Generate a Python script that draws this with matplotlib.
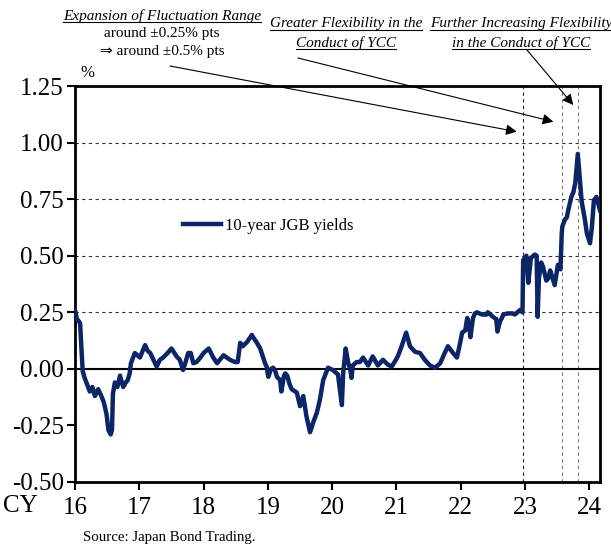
import matplotlib
matplotlib.use("Agg")
import matplotlib.pyplot as plt
from matplotlib.lines import Line2D

plt.rcParams["font.family"] = ["Liberation Serif", "DejaVu Serif"]
plt.rcParams["axes.unicode_minus"] = False

# 10-year JGB yield (%), x in calendar years (16 = Jan 2016)
years = [
    16.00, 16.03, 16.06, 16.08, 16.10, 16.12, 16.15, 16.19, 16.23, 16.27,
    16.31, 16.36, 16.41, 16.45, 16.49, 16.52, 16.555, 16.575, 16.59, 16.62,
    16.66, 16.70, 16.75, 16.79, 16.82, 16.85, 16.87, 16.93, 17.01, 17.09,
    17.13, 17.17, 17.22, 17.27, 17.32, 17.37, 17.44, 17.50, 17.58, 17.63,
    17.68, 17.72, 17.76, 17.80, 17.84, 17.89, 17.95, 18.00, 18.08, 18.15,
    18.21, 18.31, 18.41, 18.49, 18.53, 18.57, 18.61, 18.68, 18.75, 18.77,
    18.83, 18.88, 18.92, 18.955, 18.98, 19.006, 19.05, 19.08, 19.11, 19.14,
    19.19, 19.21, 19.25, 19.27, 19.30, 19.34, 19.37, 19.45, 19.50, 19.55,
    19.60, 19.655, 19.68, 19.70, 19.76, 19.81, 19.86, 19.935, 20.01, 20.09,
    20.15, 20.17, 20.21, 20.25, 20.28, 20.30, 20.32, 20.38, 20.43, 20.48,
    20.56, 20.63, 20.71, 20.79, 20.86, 20.925, 20.97, 21.02, 21.08, 21.15,
    21.18, 21.21, 21.29, 21.365, 21.44, 21.52, 21.60, 21.68, 21.75, 21.80,
    21.88, 21.94, 21.99, 22.02, 22.07, 22.10, 22.13, 22.15, 22.19, 22.22,
    22.25, 22.33, 22.40, 22.42, 22.50, 22.55, 22.57, 22.61, 22.64, 22.66,
    22.73, 22.81, 22.84, 22.92, 22.96, 22.97, 23.02, 23.05, 23.09, 23.15,
    23.18, 23.195, 23.215, 23.25, 23.28, 23.33, 23.36, 23.39, 23.46, 23.51,
    23.55, 23.57, 23.58, 23.62, 23.65, 23.67, 23.72, 23.75, 23.78, 23.82,
    23.84, 23.88, 23.93, 23.96, 24.01, 24.04, 24.07, 24.11, 24.165,
]
yields = [
    0.26, 0.22, 0.21, 0.20, 0.09, -0.01, -0.04, -0.07, -0.10, -0.08,
    -0.12, -0.09, -0.12, -0.15, -0.20, -0.27, -0.29, -0.27, -0.11, -0.06,
    -0.08, -0.03, -0.08, -0.06, -0.05, -0.02, 0.025, 0.07, 0.05, 0.105,
    0.08, 0.07, 0.04, 0.01, 0.04, 0.05, 0.07, 0.09, 0.055, 0.04,
    -0.005, 0.03, 0.07, 0.07, 0.025, 0.03, 0.05, 0.07, 0.09, 0.05,
    0.025, 0.06, 0.04, 0.03, 0.03, 0.115, 0.10, 0.12, 0.15, 0.14,
    0.115, 0.09, 0.055, 0.025, 0.01, -0.035, 0.00, 0.005, -0.005, -0.035,
    -0.05, -0.10, -0.03, -0.02, -0.03, -0.07, -0.09, -0.105, -0.165, -0.12,
    -0.21, -0.28, -0.26, -0.24, -0.195, -0.135, -0.05, 0.005, -0.005, -0.025,
    -0.16, -0.02, 0.09, 0.025, 0.00, -0.04, 0.015, 0.03, 0.03, 0.05,
    0.015, 0.055, 0.015, 0.04, 0.02, 0.01, 0.03, 0.055, 0.10, 0.16,
    0.13, 0.10, 0.075, 0.07, 0.04, 0.015, 0.005, 0.025, 0.07, 0.10,
    0.07, 0.05, 0.115, 0.16, 0.17, 0.225, 0.195, 0.14, 0.225, 0.245,
    0.25, 0.24, 0.24, 0.25, 0.23, 0.22, 0.165, 0.21, 0.225, 0.24,
    0.245, 0.245, 0.24, 0.26, 0.25, 0.48, 0.50, 0.38, 0.49, 0.505,
    0.50, 0.23, 0.40, 0.47, 0.45, 0.39, 0.40, 0.435, 0.37, 0.46,
    0.44, 0.60, 0.63, 0.66, 0.67, 0.70, 0.76, 0.78, 0.82, 0.95,
    0.88, 0.74, 0.66, 0.60, 0.555, 0.63, 0.745, 0.76, 0.70,
]

year_ticks = [16, 17, 18, 19, 20, 21, 22, 23, 24]
year_labels = ["16", "17", "18", "19", "20", "21", "22", "23", "24"]
y_ticks = [-0.50, -0.25, 0.00, 0.25, 0.50, 0.75, 1.00, 1.25]
grid_levels = [0.25, 0.50, 0.75, 1.00]

# policy events: (x, arrow tip y, colour of dashed line)
event_x = [22.97, 23.57, 23.83]
event_tip_x = [22.87, 23.44, 23.75]
event_tip_y = [1.048, 1.092, 1.166]
event_colors = ["#222222", "#777777", "#777777"]

LINE = "#0b2566"
W, H = 611, 549

fig = plt.figure(figsize=(W / 100, H / 100), dpi=100)
ax = fig.add_axes([75 / W, 1 - 482 / H, 525 / W, 396 / H])

for lv in grid_levels:
    ax.axhline(lv, color="#333333", lw=0.8, ls=(0, (3, 3)), zorder=1)
for x, c in zip(event_x, event_colors):
    ax.axvline(x, color=c, lw=0.8, ls=(0, (3, 3)), zorder=1)
ax.axhline(0, color="black", lw=1.5, zorder=2)

ax.plot(years, yields, color=LINE, lw=3.2, solid_joinstyle="round",
        label="10-year JGB yields", zorder=3)

ax.set_xlim(16, 24.165)
ax.set_ylim(-0.5, 1.25)
ax.set_xticks(year_ticks)
ax.set_xticklabels(year_labels)
ax.set_yticks(y_ticks)
ax.set_yticklabels([f"{v:.2f}" for v in y_ticks])
ax.tick_params(axis="both", labelsize=18, length=6, width=1.5, direction="out")
ax.tick_params(axis="x", pad=5)
ax.tick_params(axis="y", pad=2)
for s in ax.spines.values():
    s.set_linewidth(2)

ax.legend(loc="center left", bbox_to_anchor=(0.205, 0.646), frameon=False,
          fontsize=12, handlelength=2.3, handletextpad=0.25,
          borderaxespad=0, borderpad=0)

fig.text(3 / W, 1 - 506 / H, "CY", fontsize=18, va="center", ha="left")
fig.text(80 / W, 1 - 73 / H, "%", fontsize=12, va="center", ha="left")
fig.text(83 / W, 1 - 537 / H, "Source: Japan Bond Trading.", fontsize=10.7,
         va="center", ha="left")

# annotation texts: (x centre px, y centre px, text, underlined)
notes = [
    (162, 16, "Expansion of Fluctuation Range", True),
    (162, 34, "around \u00b10.25% pts", False),
    (162, 51, "\u21d2 around \u00b10.5% pts", False),
    (346, 24, "Greater Flexibility in the", True),
    (346, 43, "Conduct of YCC", True),
    (521, 24, "Further Increasing Flexibility", True),
    (521, 43, "in the Conduct of YCC", True),
]
under = []
for x, y, t, u in notes:
    if u:
        txt = fig.text(x / W, 1 - y / H, t, fontsize=11, style="italic",
                       ha="center", va="center")
        under.append(txt)
    else:
        fig.text(x / W, 1 - y / H, t, fontsize=11, ha="center", va="center",
                 family=["Liberation Serif", "DejaVu Sans"])

fig.canvas.draw()
r = fig.canvas.get_renderer()
for txt in under:
    bb = txt.get_window_extent(r)
    yl = bb.y0 + 1
    fig.add_artist(Line2D([bb.x0 / W, bb.x1 / W], [yl / H, yl / H],
                          color="black", lw=0.8, transform=fig.transFigure))

# arrows from the notes to the event lines
tails = [(170, 66), (298, 58), (527, 50)]
for (tx, ty), ex, ey in zip(tails, event_tip_x, event_tip_y):
    ax.annotate("", xy=(ex, ey), xycoords="data",
                xytext=(tx / W, 1 - ty / H), textcoords="figure fraction",
                arrowprops=dict(arrowstyle="-|>", color="black", lw=0.8,
                                mutation_scale=16, shrinkA=0, shrinkB=0),
                annotation_clip=False)

fig.savefig("out.png", dpi=100)
